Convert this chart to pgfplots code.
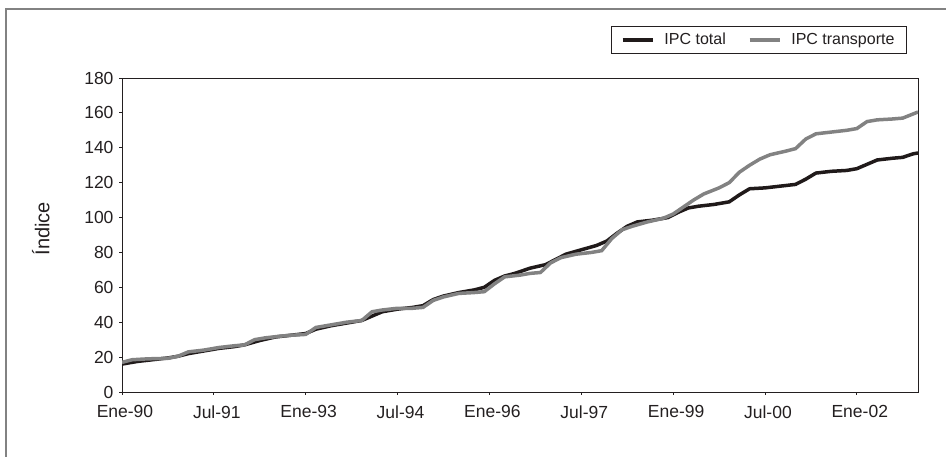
\documentclass[border=0pt]{standalone}
\usepackage{pgfplots}
\pgfplotsset{compat=1.18}
\usepackage{fontspec}
\setmainfont{Liberation Sans}

\definecolor{ipctotal}{RGB}{32,26,26}
\definecolor{ipctransp}{RGB}{130,130,130}
\definecolor{txt}{RGB}{35,31,32}

\begin{document}
\begin{tikzpicture}[x=1bp,y=1bp]
\useasboundingbox (0,0) rectangle (946,457);
% outer frame (top and left edges)
\draw[color=ipctransp, line width=2bp] (6,0) -- (6,448) -- (946,448);
\begin{axis}[
  at={(122bp,65bp)}, anchor=south west,
  scale only axis, width=796bp, height=314bp,
  xmin=0, xmax=156, ymin=0, ymax=180,
  axis line style={color=txt, line width=0.8bp},
  xtick={0,18,36,54,72,90,108,126,144},
  xticklabels={Ene-90,Jul-91,Ene-93,Jul-94,Ene-96,Jul-97,Ene-99,Jul-00,Ene-02},
  ytick={0,20,...,180},
  xtick pos=bottom, ytick pos=left,
  tick align=outside, major tick length=3bp,
  tick style={color=txt, line width=0.8bp},
  /pgf/number format/assume math mode=true,
  ticklabel style={font=\fontsize{17.5bp}{19bp}\selectfont, color=txt},
  xticklabel style={yshift=-7bp, xshift=3bp},
  yticklabel style={xshift=-2bp},
  ylabel={Índice},
  ylabel style={font=\fontsize{20bp}{22bp}\selectfont, color=txt, at={(axis description cs:-0.102,0.52)}, anchor=center},
  legend columns=2,
  legend style={at={(axis description cs:0.986,1.166)}, anchor=north east,
    draw=txt, line width=0.8bp, font=\fontsize{16bp}{18bp}\selectfont, text=txt,
    inner xsep=10bp, inner ysep=5bp,
    /tikz/every odd column/.append style={column sep=8bp},
    /tikz/every even column/.append style={column sep=20bp}},
  legend image code/.code={\draw[#1, line width=3.5bp] (0bp,0bp) -- (30bp,0bp);},
]
\addplot[ipctotal, line width=3.5bp] coordinates {
(0,16.0) (3,17.5) (6,18.5) (9,19.5) (11,20.5) (13,22.0) (16,23.5) (19,25.0)
(22,26.0) (24,27.0) (27,29.5) (30,31.5) (33,32.5) (36,33.5) (38,36.0) (41,38.0)
(44,39.5) (47,41.0) (49,43.5) (51,46.0) (54,47.5) (57,48.5) (59,49.5) (61,53.0)
(63,55.0) (66,57.0) (69,58.5) (71,60.0) (73,64.0) (75,66.5) (77,68.0) (80,71.0)
(83,73.0) (85,76.0) (87,79.0) (90,81.5) (93,84.0) (95,86.5) (97,91.0) (99,95.0)
(101,97.5) (104,98.5) (107,100.0) (109,103.0) (111,105.5) (113,106.5) (116,107.5)
(119,109.0) (121,113.0) (123,116.5) (126,117.0) (129,118.0) (132,119.0) (134,122.0)
(136,125.5) (139,126.5) (142,127.0) (144,128.0) (146,130.5) (148,133.0) (151,134.0)
(153,134.5) (155,136.5) (156,137.0)
};
\addlegendentry{IPC total}
\addplot[ipctransp, line width=3.5bp] coordinates {
(0,17.0) (2,18.5) (5,19.0) (9,19.3) (11,20.5) (13,23.0) (16,24.0) (19,25.5)
(22,26.5) (24,27.0) (26,30.0) (28,31.0) (31,32.0) (33,32.5) (36,33.0) (38,37.0)
(41,38.5) (44,40.0) (47,41.0) (49,46.0) (51,47.0) (54,48.0) (57,48.0) (59,48.5)
(61,52.5) (63,54.5) (66,56.5) (69,57.0) (71,57.5) (73,62.0) (75,66.0) (78,67.0)
(80,68.0) (82,68.5) (84,74.0) (86,77.0) (89,79.0) (92,80.0) (94,81.0) (96,88.0)
(98,93.0) (100,95.0) (103,97.5) (106,99.5) (108,102.0) (110,106.0) (112,110.0)
(114,113.5) (117,117.0) (119,120.0) (121,126.0) (123,130.0) (125,133.5) (127,136.0)
(130,138.0) (132,139.5) (134,145.0) (136,148.0) (139,149.0) (142,150.0) (144,151.0)
(146,155.0) (148,156.0) (151,156.5) (153,157.0) (156,160.5)
};
\addlegendentry{IPC transporte}
\end{axis}
\end{tikzpicture}
\end{document}
